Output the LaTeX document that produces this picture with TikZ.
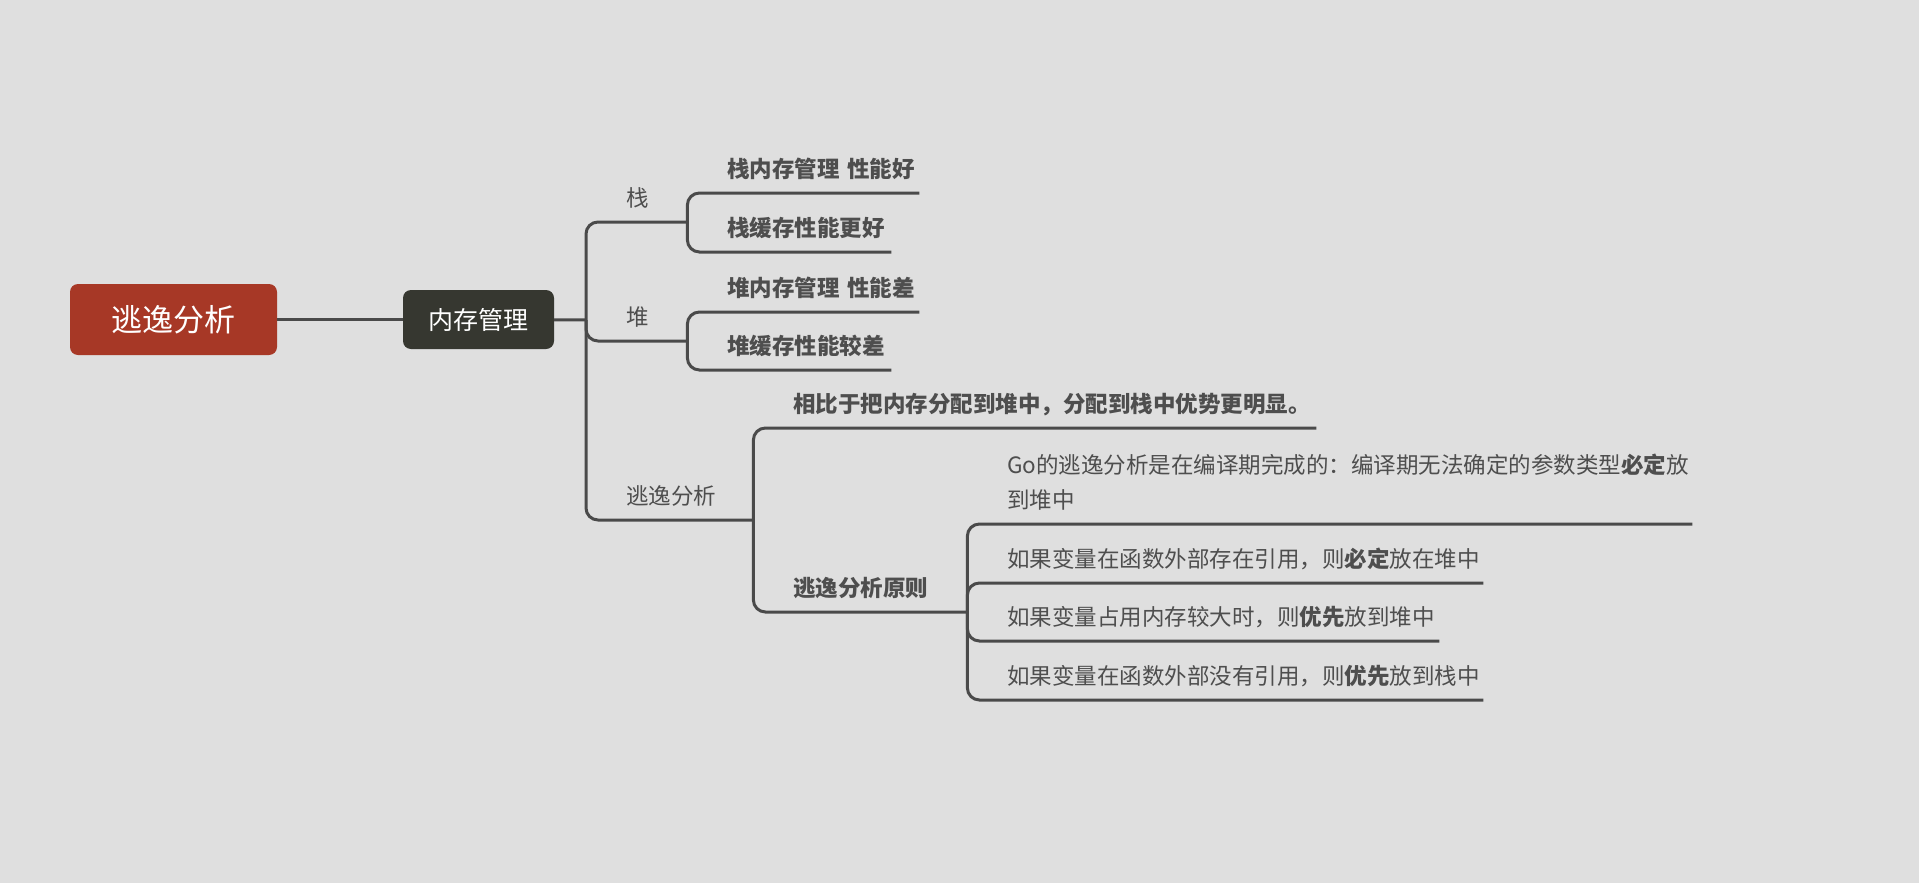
\documentclass[tikz,border=0pt]{standalone}
\usepackage{fontspec}
\setmainfont{Noto Sans CJK SC}
\usepackage{tikz}

\definecolor{bg}{RGB}{223,223,223}
\definecolor{rootred}{RGB}{167,56,38}
\definecolor{boxdark}{RGB}{54,55,48}
\definecolor{wire}{RGB}{74,74,74}
\definecolor{ink}{RGB}{78,78,78}

\newcommand{\ind}{\hspace*{40pt}}

\tikzset{
    branch/.style={draw=wire, line width=3pt, rounded corners=12pt},
    topic/.style={anchor=south west, inner xsep=0pt, inner ysep=15pt, text depth=0pt,
        align=left, text=ink, font=\fontsize{22.5}{35}\selectfont},
    strong/.style={topic, font=\fontsize{22.5}{35}\selectfont\bfseries},
}

\begin{document}
\begin{tikzpicture}[x=1pt, y=-1pt]

    \useasboundingbox (0,0) rectangle (1919,883);
    \fill[bg] (0,0) rectangle (1919,883);

    % central topics
    \node[fill=rootred, rounded corners=8pt, minimum width=207pt, minimum height=71pt,
        text=white, font=\fontsize{31}{31}\selectfont] (root) at (173.5,319.5) {逃逸分析};
    \node[fill=boxdark, rounded corners=8pt, minimum width=151pt, minimum height=59pt,
        text=white, font=\fontsize{25}{25}\selectfont] (mem) at (478.5,319.5) {内存管理};
    \coordinate (fork) at (586,320);

    % second level
    \node[topic, text width=101pt] (zhan) at (586,222) {\ind 栈};
    \node[topic, text width=101pt] (dui) at (586,341) {\ind 堆};
    \node[topic, text width=167pt] (esc) at (586,520) {\ind 逃逸分析};

    % third level
    \node[strong, text width=232pt] (zhanA) at (687,193) {\ind 栈内存管理~性能好};
    \node[strong, text width=204pt] (zhanB) at (687,252) {\ind 栈缓存性能更好};
    \node[strong, text width=232pt] (duiA) at (687,312) {\ind 堆内存管理~性能差};
    \node[strong, text width=204pt] (duiB) at (687,370) {\ind 堆缓存性能较差};
    \node[strong, text width=563pt] (cmp) at (753,428) {\ind 相比于把内存分配到堆中，分配到栈中优势更明显。};
    \node[strong, text width=214pt] (rule) at (753,612) {\ind 逃逸分析原则};

    % rules
    \node[topic, text width=725pt, text depth=35pt] (go) at (967,524)
        {\ind Go的逃逸分析是在编译期完成的：编译期无法确定的参数类型\textbf{必定}放\\\ind 到堆中};
    \node[topic, text width=516pt] (ruleA) at (967,583) {\ind 如果变量在函数外部存在引用，则\textbf{必定}放在堆中};
    \node[topic, text width=472pt] (ruleB) at (967,641) {\ind 如果变量占用内存较大时，则\textbf{优先}放到堆中};
    \node[topic, text width=516pt] (ruleC) at (967,700) {\ind 如果变量在函数外部没有引用，则\textbf{优先}放到栈中};

    % connectors
    \draw[branch] (root) -- (mem);
    \draw[branch] (mem) -- (fork);
    \draw[branch] (fork) |- (zhan.south east);
    \draw[branch] (fork) |- (dui.south east);
    \draw[branch] (fork) |- (esc.south east);
    \draw[branch] (zhan.south east) |- (zhanA.south east);
    \draw[branch] (zhan.south east) |- (zhanB.south east);
    \draw[branch] (dui.south east) |- (duiA.south east);
    \draw[branch] (dui.south east) |- (duiB.south east);
    \draw[branch] (esc.south east) |- (cmp.south east);
    \draw[branch] (esc.south east) |- (rule.south east);
    \draw[branch] (rule.south east) |- (go.south east);
    \draw[branch] (rule.south east) |- (ruleA.south east);
    \draw[branch] (rule.south east) |- (ruleB.south east);
    \draw[branch] (rule.south east) |- (ruleC.south east);

\end{tikzpicture}
\end{document}
